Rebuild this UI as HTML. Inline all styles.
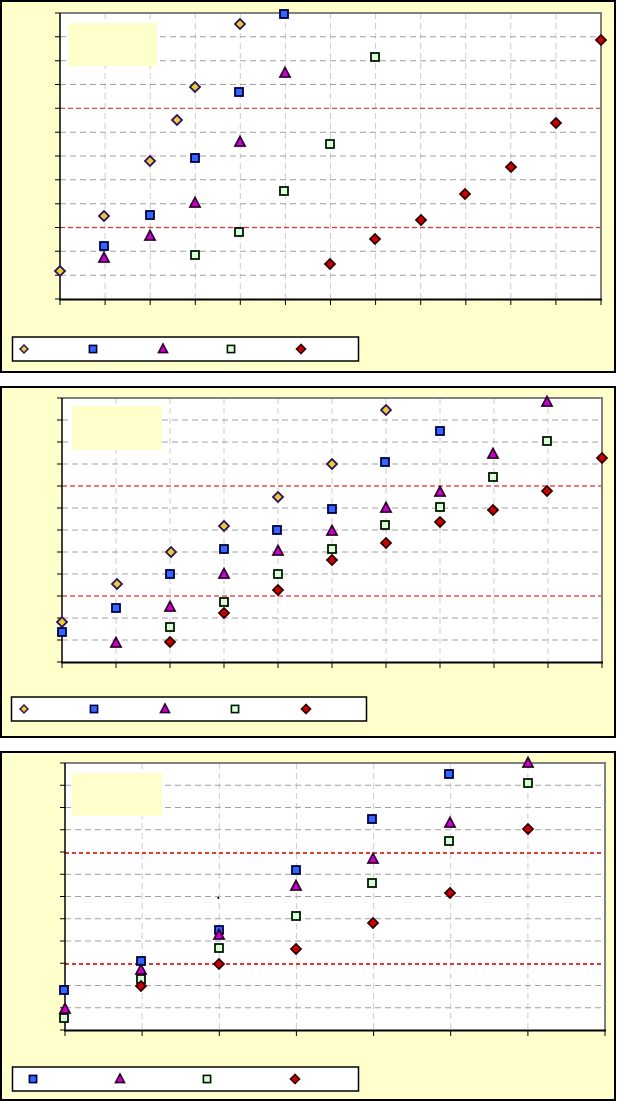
<!DOCTYPE html>
<html><head><meta charset="utf-8"><style>
html,body{margin:0;padding:0;background:#fff;width:617px;height:1102px;overflow:hidden;font-family:"Liberation Sans",sans-serif}
svg{display:block}
</style></head><body>
<svg width="617" height="1102" viewBox="0 0 617 1102" xmlns="http://www.w3.org/2000/svg">
<defs>
<g id="dy"><path d="M0,-5L5,0L0,5L-5,0Z" fill="#E8CC30" stroke="#2A1060" stroke-width="1.8"/></g>
<g id="sb"><rect x="-4" y="-4" width="8" height="8" fill="#3366FF" stroke="#000040" stroke-width="1.8"/></g>
<g id="tm"><path d="M0,-5.5L5,4L-5,4Z" fill="#CC00CC" stroke="#300030" stroke-width="1.8"/></g>
<g id="sg"><rect x="-4" y="-4" width="8" height="8" fill="#D8FFD8" stroke="#001800" stroke-width="1.8"/></g>
<g id="dr"><path d="M0,-5L5,0L0,5L-5,0Z" fill="#CC0000" stroke="#300000" stroke-width="1.8"/></g>
</defs>

<!-- ================= PANEL 1 ================= -->
<rect x="1" y="1" width="614" height="371" fill="#FFFFCC" stroke="#000" stroke-width="2"/>
<rect x="60" y="13" width="541" height="286" fill="#fff"/>
<g stroke="#CCCCCC" stroke-width="1" stroke-dasharray="6 4">
<path d="M105.1,13V299M150.2,13V299M195.3,13V299M240.3,13V299M285.4,13V299M330.5,13V299M375.6,13V299M420.7,13V299M465.8,13V299M510.8,13V299M555.9,13V299"/>
</g>
<g stroke="#A0A0A0" stroke-width="1" stroke-dasharray="6 4">
<path d="M60,36.8H601M60,60.7H601M60,84.5H601M60,132.2H601M60,156H601M60,179.8H601M60,203.7H601M60,251.3H601M60,275.2H601"/>
</g>
<g stroke="#E03030" stroke-width="1.2" stroke-dasharray="5 3">
<path d="M60,108.3H601M60,227.5H601"/>
</g>
<rect x="68" y="23" width="89" height="43" fill="#FFFFCC"/>
<path d="M60,13H601V299" fill="none" stroke="#808080" stroke-width="2"/>
<path d="M60,13V300" stroke="#000" stroke-width="1.5"/>
<path d="M59,299.5H602" stroke="#000" stroke-width="2"/>
<g stroke="#000" stroke-width="1">
<path d="M55,13H60M55,36.8H60M55,60.7H60M55,84.5H60M55,108.3H60M55,132.2H60M55,156H60M55,179.8H60M55,203.7H60M55,227.5H60M55,251.3H60M55,275.2H60M55,299H60"/>
<path d="M60,299V305M105.1,299V305M150.2,299V305M195.3,299V305M240.3,299V305M285.4,299V305M330.5,299V305M375.6,299V305M420.7,299V305M465.8,299V305M510.8,299V305M555.9,299V305M601,299V305"/>
</g>
<use href="#dy" x="60" y="271"/><use href="#dy" x="104" y="216"/><use href="#dy" x="150" y="161"/><use href="#dy" x="177" y="120"/><use href="#dy" x="195" y="87"/><use href="#dy" x="240" y="24"/>
<use href="#sb" x="104" y="246"/><use href="#sb" x="150" y="215"/><use href="#sb" x="195" y="158"/><use href="#sb" x="239" y="92"/><use href="#sb" x="284" y="14"/>
<use href="#tm" x="104" y="258"/><use href="#tm" x="150" y="236"/><use href="#tm" x="195" y="203"/><use href="#tm" x="240" y="142"/><use href="#tm" x="285" y="73"/>
<use href="#sg" x="195" y="255"/><use href="#sg" x="239" y="232"/><use href="#sg" x="284" y="191"/><use href="#sg" x="330" y="144"/><use href="#sg" x="375" y="57"/>
<use href="#dr" x="330" y="264"/><use href="#dr" x="375" y="239"/><use href="#dr" x="421" y="220"/><use href="#dr" x="465" y="194"/><use href="#dr" x="511" y="167"/><use href="#dr" x="556" y="123"/><use href="#dr" x="601" y="40"/>
<rect x="12.5" y="337" width="346" height="24" fill="#fff" stroke="#000" stroke-width="1.5"/>
<g transform="translate(24,349) scale(0.8)"><use href="#dy"/></g>
<g transform="translate(93,349) scale(0.9)"><use href="#sb"/></g>
<g transform="translate(163,349) scale(0.9)"><use href="#tm"/></g>
<g transform="translate(231,349) scale(0.9)"><use href="#sg"/></g>
<g transform="translate(301,349) scale(0.9)"><use href="#dr"/></g>

<!-- ================= PANEL 2 ================= -->
<rect x="1" y="387" width="614" height="350" fill="#FFFFCC" stroke="#000" stroke-width="2"/>
<rect x="62" y="398" width="540" height="264" fill="#fff"/>
<g stroke="#CCCCCC" stroke-width="1" stroke-dasharray="6 4">
<path d="M116,398V662M170,398V662M224,398V662M278,398V662M332,398V662M386,398V662M440,398V662M494,398V662M548,398V662"/>
</g>
<g stroke="#A0A0A0" stroke-width="1" stroke-dasharray="6 4">
<path d="M62,420H602M62,442H602M62,464H602M62,508H602M62,530H602M62,552H602M62,574H602M62,618H602M62,640H602"/>
</g>
<g stroke="#E03030" stroke-width="1.2" stroke-dasharray="5 3">
<path d="M62,486H602M62,596H602"/>
</g>
<rect x="72" y="406" width="90" height="44" fill="#FFFFCC"/>
<path d="M62,398H602V662" fill="none" stroke="#808080" stroke-width="2"/>
<path d="M62,398V663" stroke="#000" stroke-width="1.5"/>
<path d="M61,662.5H603" stroke="#000" stroke-width="2"/>
<g stroke="#000" stroke-width="1">
<path d="M57,398H62M57,420H62M57,442H62M57,464H62M57,486H62M57,508H62M57,530H62M57,552H62M57,574H62M57,596H62M57,618H62M57,640H62M57,662H62"/>
<path d="M62,662V668M116,662V668M170,662V668M224,662V668M278,662V668M332,662V668M386,662V668M440,662V668M494,662V668M548,662V668M602,662V668"/>
</g>
<use href="#dy" x="62" y="622"/><use href="#dy" x="117" y="584"/><use href="#dy" x="171" y="552"/><use href="#dy" x="224" y="526"/><use href="#dy" x="278" y="497"/><use href="#dy" x="332" y="464"/><use href="#dy" x="386" y="410"/>
<use href="#sb" x="62" y="632"/><use href="#sb" x="116" y="608"/><use href="#sb" x="170" y="574"/><use href="#sb" x="224" y="549"/><use href="#sb" x="277" y="530"/><use href="#sb" x="332" y="509"/><use href="#sb" x="385" y="462"/><use href="#sb" x="440" y="431"/>
<use href="#tm" x="116" y="643"/><use href="#tm" x="170" y="607"/><use href="#tm" x="224" y="574"/><use href="#tm" x="278" y="551"/><use href="#tm" x="332" y="531"/><use href="#tm" x="386" y="508"/><use href="#tm" x="440" y="492"/><use href="#tm" x="493" y="454"/><use href="#tm" x="547" y="402"/>
<use href="#sg" x="170" y="627"/><use href="#sg" x="224" y="602"/><use href="#sg" x="278" y="574"/><use href="#sg" x="332" y="549"/><use href="#sg" x="385" y="525"/><use href="#sg" x="440" y="507"/><use href="#sg" x="493" y="477"/><use href="#sg" x="547" y="441"/>
<use href="#dr" x="170" y="642"/><use href="#dr" x="224" y="613"/><use href="#dr" x="278" y="590"/><use href="#dr" x="332" y="560"/><use href="#dr" x="386" y="543"/><use href="#dr" x="440" y="522"/><use href="#dr" x="493" y="510"/><use href="#dr" x="547" y="491"/><use href="#dr" x="602" y="458"/>
<rect x="11.5" y="697" width="355" height="24" fill="#fff" stroke="#000" stroke-width="1.5"/>
<g transform="translate(24,709) scale(0.8)"><use href="#dy"/></g>
<g transform="translate(94,709) scale(0.9)"><use href="#sb"/></g>
<g transform="translate(165,709) scale(0.9)"><use href="#tm"/></g>
<g transform="translate(235,709) scale(0.9)"><use href="#sg"/></g>
<g transform="translate(306,709) scale(0.9)"><use href="#dr"/></g>

<!-- ================= PANEL 3 ================= -->
<rect x="1" y="752" width="614" height="348" fill="#FFFFCC" stroke="#000" stroke-width="2"/>
<rect x="65" y="763" width="540" height="267" fill="#fff"/>
<g stroke="#CCCCCC" stroke-width="1" stroke-dasharray="6 4">
<path d="M142.1,763V1030M219.3,763V1030M296.4,763V1030M373.6,763V1030M450.7,763V1030M527.9,763V1030"/>
</g>
<g stroke="#A0A0A0" stroke-width="1" stroke-dasharray="6 4">
<path d="M65,785.25H605M65,807.5H605M65,829.75H605M65,874.25H605M65,896.5H605M65,918.75H605M65,941H605M65,985.5H605M65,1007.75H605"/>
</g>
<g stroke="#E03A30" stroke-width="2" stroke-dasharray="4 3">
<path d="M65,853H605M65,964H605"/>
</g>
<rect x="72" y="773" width="90" height="43" fill="#FFFFCC"/>
<path d="M65,763H605V1030" fill="none" stroke="#808080" stroke-width="2"/>
<path d="M65,763V1031" stroke="#000" stroke-width="1.5"/>
<path d="M64,1030.5H606" stroke="#000" stroke-width="2"/>
<g stroke="#000" stroke-width="1">
<path d="M60,763H65M60,785.25H65M60,807.5H65M60,829.75H65M60,852H65M60,874.25H65M60,896.5H65M60,918.75H65M60,941H65M60,963.25H65M60,985.5H65M60,1007.75H65M60,1030H65"/>
<path d="M65,1030V1036M142.1,1030V1036M219.3,1030V1036M296.4,1030V1036M373.6,1030V1036M450.7,1030V1036M527.9,1030V1036M605,1030V1036"/>
</g>
<rect x="217.5" y="897" width="1.5" height="2" fill="#000"/>
<use href="#sb" x="64" y="990"/><use href="#sb" x="141" y="961"/><use href="#sb" x="219" y="930"/><use href="#sb" x="296" y="870"/><use href="#sb" x="372" y="819"/><use href="#sb" x="449" y="774"/>
<use href="#sg" x="64" y="1018"/><use href="#sg" x="141" y="979"/><use href="#sg" x="219" y="948"/><use href="#sg" x="296" y="916"/><use href="#sg" x="372" y="883"/><use href="#sg" x="449" y="841"/><use href="#sg" x="528" y="783"/>
<use href="#tm" x="65" y="1009"/><use href="#tm" x="141" y="970"/><use href="#tm" x="219" y="935"/><use href="#tm" x="296" y="886"/><use href="#tm" x="373" y="859"/><use href="#tm" x="450" y="823"/><use href="#tm" x="528" y="763"/>
<use href="#dr" x="141" y="986"/><use href="#dr" x="219" y="964"/><use href="#dr" x="296" y="949"/><use href="#dr" x="373" y="923"/><use href="#dr" x="450" y="893"/><use href="#dr" x="528" y="829"/>
<rect x="12.5" y="1067" width="346" height="24" fill="#fff" stroke="#000" stroke-width="1.5"/>
<g transform="translate(33,1079) scale(0.9)"><use href="#sb"/></g>
<g transform="translate(120,1079) scale(0.9)"><use href="#tm"/></g>
<g transform="translate(207,1079) scale(0.9)"><use href="#sg"/></g>
<g transform="translate(295,1079) scale(0.9)"><use href="#dr"/></g>
</svg>
</body></html>
